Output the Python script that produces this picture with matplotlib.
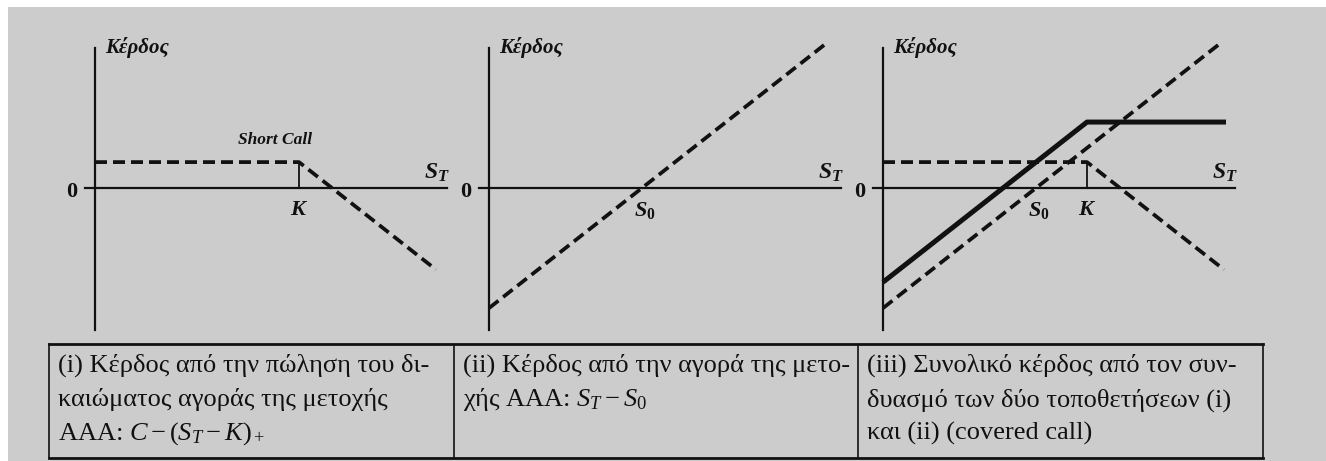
"""Covered call payoff diagrams (short call, long stock, combined)."""

import matplotlib

matplotlib.use("Agg")
import matplotlib.pyplot as plt
from matplotlib.patches import Rectangle

plt.rcParams["font.family"] = ["Liberation Serif", "DejaVu Serif"]
plt.rcParams["mathtext.fontset"] = "custom"
plt.rcParams["mathtext.rm"] = "Liberation Serif"
plt.rcParams["mathtext.it"] = "Liberation Serif:italic"
plt.rcParams["mathtext.bf"] = "Liberation Serif:bold"
plt.rcParams["mathtext.bfit"] = "Liberation Serif:italic:bold"

# Data (x in S_T units, y in profit units)
S0 = 15.3
K = 20.4
C = 3.3

short_call_st = [0.0, 20.4, 34.1]
short_call_profit = [3.3, 3.3, -10.4]

stock_st = [0.0, 33.8]
stock_profit = [-15.3, 18.5]

covered_st = [0.0, 20.4, 34.3]
covered_profit = [-12.0, 8.4, 8.4]

table_text = [
    ["(i) Κέρδος από την πώληση του δι-",
     "καιώματος αγοράς της μετοχής",
     r"AAA: $C-(S_T-K)_+$"],
    ["(ii) Κέρδος από την αγορά της μετο-",
     r"χής AAA: $S_T-S_0$"],
    ["(iii) Συνολικό κέρδος από τον συν-",
     "δυασμό των δύο τοποθετήσεων (i)",
     "και (ii) (covered call)"],
]

W, H = 1326, 461
fig = plt.figure(figsize=(W / 100, H / 100), dpi=100, facecolor="white")
fig.patches.append(Rectangle((8 / W, 0), 1, (H - 7) / H, transform=fig.transFigure,
                             facecolor="#cccccc", edgecolor="none", zorder=-10))

# panel geometry: 10 px per x unit, 7.85 px per y unit
XLIM = (-2.5, 36.5)
YLIM = (-19.0, 19.0)
x_px, y_px = 10.0, 7.85
axis_x_px = [95, 489, 883]
zero_y_px = 188

dash = (0, (3.2, 1.6))
black = "#111111"

axes = []
for xp in axis_x_px:
    left = xp - (0 - XLIM[0]) * x_px
    top = zero_y_px - YLIM[1] * y_px
    w = (XLIM[1] - XLIM[0]) * x_px
    h = (YLIM[1] - YLIM[0]) * y_px
    ax = fig.add_axes([left / W, 1 - (top + h) / H, w / W, h / H])
    ax.set_xlim(XLIM)
    ax.set_ylim(YLIM)
    ax.set_facecolor("none")
    ax.set_xticks([])
    ax.set_yticks([])
    for side in ["top", "right"]:
        ax.spines[side].set_visible(False)
    ax.spines["left"].set_position(("data", 0))
    ax.spines["bottom"].set_position(("data", 0))
    ax.spines["left"].set_bounds(-18.1, 17.8)
    ax.spines["bottom"].set_bounds(-1.0, 35.2)
    for side in ["left", "bottom"]:
        ax.spines[side].set_linewidth(1.6)
        ax.spines[side].set_color(black)
    ax.text(1.0, 17.9, "Κέρδος", fontsize=15, fontweight="bold", fontstyle="italic",
            ha="left", va="center", color=black)
    ax.text(34.2, 1.9, r"$\mathbfit{S}_{\mathbfit{T}}$", fontsize=17,
            ha="center", va="center", color=black)
    ax.text(-2.3, -0.5, "0", fontsize=16, fontweight="bold", ha="center", va="center",
            color=black)
    axes.append(ax)

ax1, ax2, ax3 = axes

# (i) short call
ax1.plot(short_call_st, short_call_profit, color=black, lw=2.7, linestyle=dash)
ax1.plot([K, K], [0, C], color=black, lw=1.3)
ax1.text(18.0, 6.1, "Short Call", fontsize=12.5, fontweight="bold", fontstyle="italic",
         ha="center", va="center", color=black)
ax1.text(K, -2.9, r"$\mathbfit{K}$", fontsize=16, ha="center", va="center", color=black)

# (ii) long stock
ax2.plot(stock_st, stock_profit, color=black, lw=2.7, linestyle=dash)
ax2.text(15.6, -2.9, r"$\mathbfit{S}_{\mathbf{0}}$", fontsize=16, ha="center",
         va="center", color=black)

# (iii) covered call
ax3.plot(short_call_st, short_call_profit, color=black, lw=2.7, linestyle=dash)
ax3.plot(stock_st, stock_profit, color=black, lw=2.7, linestyle=dash)
ax3.plot(covered_st, covered_profit, color=black, lw=3.6, solid_capstyle="butt")
ax3.plot([K, K], [0, C], color=black, lw=1.3)
ax3.text(15.6, -2.9, r"$\mathbfit{S}_{\mathbf{0}}$", fontsize=16, ha="center",
         va="center", color=black)
ax3.text(K, -2.9, r"$\mathbfit{K}$", fontsize=16, ha="center", va="center", color=black)

# caption table
tab_left, tab_right, tab_top, tab_bot = 49, 1263, 344, 458
axt = fig.add_axes([tab_left / W, 1 - tab_bot / H, (tab_right - tab_left) / W,
                    (tab_bot - tab_top) / H])
axt.set_xlim(0, 3)
axt.set_ylim(0, 1)
axt.set_facecolor("none")
axt.set_xticks([])
axt.set_yticks([])
for side in ["top", "bottom"]:
    axt.spines[side].set_linewidth(2.0)
for side in ["left", "right"]:
    axt.spines[side].set_linewidth(1.2)
for side in axt.spines:
    axt.spines[side].set_color(black)
for xv in [1, 2]:
    axt.axvline(xv, color=black, lw=1.2)

line_y = [0.81, 0.51, 0.215]
for col, lines in enumerate(table_text):
    for row, txt in enumerate(lines):
        axt.text(col + 0.022, line_y[row], txt, fontsize=19, ha="left", va="center",
                 color=black)

fig.savefig("out.png", dpi=100, facecolor="white")
plt.close()
